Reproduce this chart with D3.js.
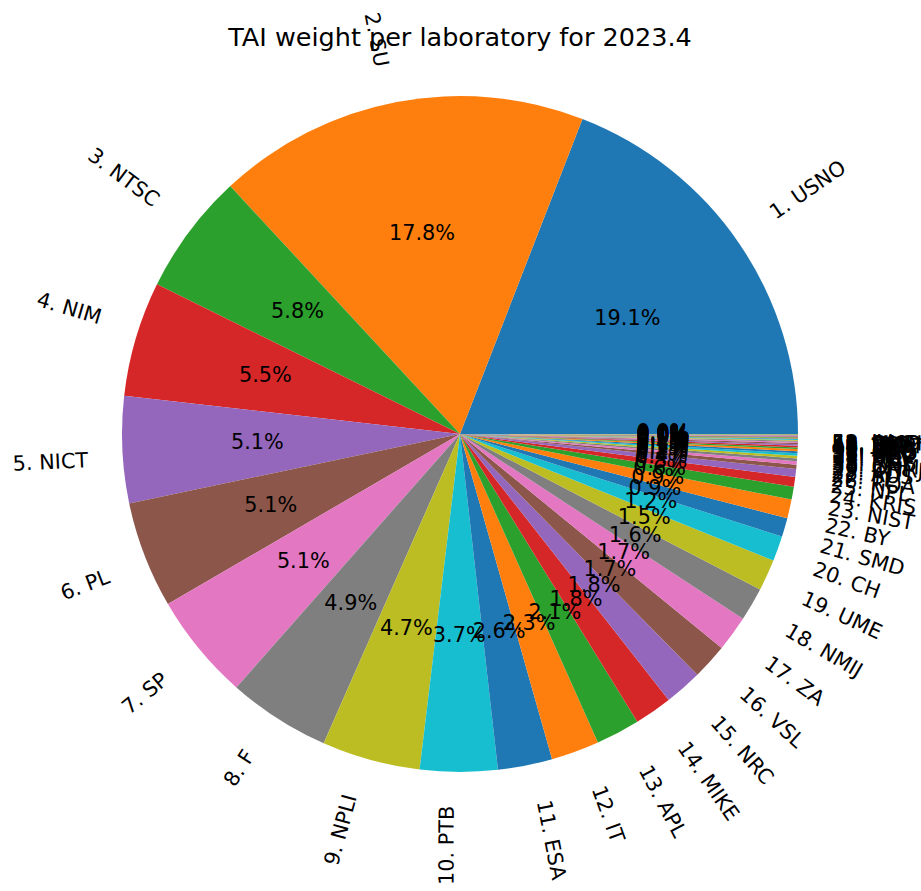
<!DOCTYPE html>
<html>
<head>
<meta charset="utf-8">
<script src="https://cdn.jsdelivr.net/npm/d3@7"></script>
<style>
  body { margin: 0; background: #fff; }
  svg { display: block; font-family: "DejaVu Sans", sans-serif; }
</style>
</head>
<body>
<div id="chart"></div>
<script>
// laboratories, ranked by TAI weight
const labs = ['USNO', 'SU', 'NTSC', 'NIM', 'NICT', 'PL', 'SP', 'F', 'NPLI', 'PTB',
  'ESA', 'IT', 'APL', 'MIKE', 'NRC', 'VSL', 'ZA', 'NMIJ', 'UME', 'CH',
  'SMD', 'BY', 'NIST', 'KRIS', 'NPL', 'ROA', 'TL', 'AUS', 'INTI', 'ONRJ',
  'CNM', 'MSL', 'KZ', 'SG', 'BEV', 'NRL', 'NAO', 'ORB', 'IFAG', 'AOS',
  'LT', 'UA', 'DLR', 'TP', 'NIMT', 'VMI', 'SIQ', 'SCL', 'HKO', 'INCP',
  'MKEH', 'DMDM', 'JV'];
// weight in percent
const weights = [19.1, 17.8, 5.8, 5.5, 5.1, 5.1, 5.1, 4.9, 4.7, 3.7,
  2.6, 2.3, 2.1, 1.8, 1.8, 1.7, 1.7, 1.6, 1.5, 1.2,
  0.9, 0.9, 0.62, 0.46, 0.38, 0.2, 0.16, 0.14, 0.12, 0.12,
  0.1, 0.1, 0.08, 0.08, 0.07, 0.06, 0.05, 0.05, 0.04, 0.04,
  0.03, 0.03, 0.03, 0.02, 0.02, 0.02, 0.02, 0.02, 0.01, 0.01,
  0.01, 0.01, 0.01];
const title = 'TAI weight per laboratory for 2023.4';

const width = 921, height = 891;
const cx = 460, cy = 434, radius = 338;
const fontSize = 20.8;

const svg = d3.select('#chart').append('svg')
  .attr('width', width)
  .attr('height', height);

// start at 3 o'clock and go counter-clockwise, like matplotlib
const pie = d3.pie().sort(null)
  .startAngle(Math.PI / 2)
  .endAngle(Math.PI / 2 - 2 * Math.PI);
const arcs = pie(weights);
const total = d3.sum(weights);
const arc = d3.arc().innerRadius(0).outerRadius(radius);

const g = svg.append('g').attr('transform', `translate(${cx},${cy})`);

g.selectAll('path.slice')
  .data(arcs)
  .join('path')
  .attr('class', 'slice')
  .attr('d', arc)
  .attr('fill', (d, i) => d3.schemeCategory10[i % 10]);

// outer rotated labels, bbox aligned the way matplotlib does it
arcs.forEach((a, i) => {
  const mid = (a.startAngle + a.endAngle) / 2;
  const theta = Math.PI / 2 - mid; // ccw from east
  const xt = 1.1 * radius * Math.cos(theta);
  const yt = 1.1 * radius * Math.sin(theta);
  const rot = theta * 180 / Math.PI + (xt > 0 ? 0 : 180);

  const t = g.append('text')
    .attr('font-size', fontSize)
    .attr('text-anchor', 'middle')
    .attr('dy', '0.26em')
    .text(`${i + 1}. ${labs[i]}`);
  const w = t.node().getComputedTextLength();
  const h = fontSize;
  const r = rot * Math.PI / 180;
  const W = Math.abs(w * Math.cos(r)) + Math.abs(h * Math.sin(r));
  const H = Math.abs(w * Math.sin(r)) + Math.abs(h * Math.cos(r));
  const px = xt + (xt > 0 ? W / 2 : -W / 2);
  const py = yt + (yt > 0 ? H / 2 : -H / 2);
  t.attr('transform', `translate(${px},${-py}) rotate(${-rot})`);
});

// percentage labels
g.selectAll('text.pct')
  .data(arcs)
  .join('text')
  .attr('class', 'pct')
  .attr('font-size', fontSize)
  .attr('text-anchor', 'middle')
  .attr('dy', '0.26em')
  .attr('x', d => 0.6 * radius * Math.sin((d.startAngle + d.endAngle) / 2))
  .attr('y', d => -0.6 * radius * Math.cos((d.startAngle + d.endAngle) / 2))
  .text(d => (d.value / total * 100).toFixed(1) + '%');

svg.append('text')
  .attr('x', 460)
  .attr('y', 46)
  .attr('text-anchor', 'middle')
  .attr('font-size', 25.5)
  .text(title);
</script>
</body>
</html>
